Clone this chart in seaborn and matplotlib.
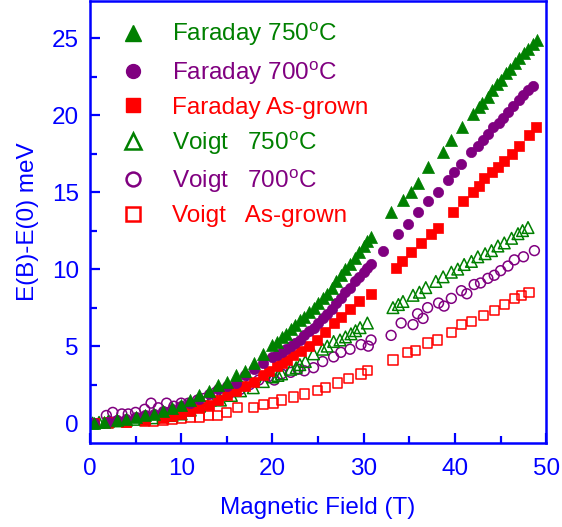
import matplotlib
matplotlib.use("Agg")
import matplotlib.pyplot as plt
from matplotlib.lines import Line2D
from matplotlib.ticker import MultipleLocator
import seaborn as sns

# ---------------- data ----------------
far750_x = [0.5, 1.5, 3, 4, 5, 6, 7, 8, 9, 10, 11, 12, 13, 14, 15, 16, 17, 18, 19, 20,
            20.5, 21, 21.5, 22, 22.5, 23, 23.5, 24, 24.5, 25, 25.5, 26, 26.5, 27, 27.5,
            28, 28.5, 29, 29.5, 30, 30.4, 30.8,
            33, 34.3, 35.2, 35.9, 37, 38.7, 39.6, 40.8, 42, 42.6, 43, 43.6, 44, 44.6,
            45, 45.6, 46, 46.6, 47, 47.6, 48, 48.5, 49]
far750_y = [0.0, 0.1, 0.2, 0.3, 0.4, 0.5, 0.6, 0.8, 1.0, 1.2, 1.5, 1.8, 2.1, 2.5, 2.7, 3.1, 3.4, 3.9, 4.5, 5.1,
            5.3, 5.6, 5.8, 6.1, 6.4, 6.7, 6.9, 7.2, 7.5, 7.8, 8.1, 8.4, 8.8, 9.2, 9.6,
            10.0, 10.3, 10.7, 11.1, 11.5, 11.8, 12.1,
            13.7, 14.5, 15.0, 15.6, 16.6, 17.6, 18.4, 19.2, 20.1, 20.5, 20.8, 21.2, 21.6, 22.0,
            22.3, 22.7, 23.0, 23.4, 23.7, 24.0, 24.3, 24.6, 24.9]

far700_x = [0.5, 2, 3, 4, 5, 6, 7, 8, 9, 10, 11, 12, 13, 14, 15, 16, 17, 18, 19, 20,
            20.5, 21, 21.5, 22, 22.5, 23, 23.5, 24, 24.5, 25, 25.5, 26, 26.5, 27, 27.5,
            28, 28.5, 29, 29.5, 30, 30.4, 30.8,
            32.1, 33.8, 34.8, 35.9, 37, 38.1, 39.2, 39.9, 40.7, 41.8, 42.5, 43.1, 43.6,
            44.2, 44.8, 45.3, 45.8, 46.4, 47, 47.5, 48, 48.6]
far700_y = [0.0, 0.1, 0.2, 0.3, 0.4, 0.5, 0.6, 0.8, 0.9, 1.1, 1.3, 1.6, 1.9, 2.2, 2.4, 2.6, 3.1, 3.5, 3.9, 4.3,
            4.4, 4.6, 4.8, 5.0, 5.2, 5.4, 5.7, 6.0, 6.2, 6.5, 6.8, 7.1, 7.4, 7.8, 8.1,
            8.5, 8.8, 9.2, 9.5, 9.8, 10.1, 10.3,
            11.2, 12.3, 12.9, 13.7, 14.4, 15.0, 15.8, 16.3, 16.8, 17.6, 18.0, 18.4, 18.8,
            19.2, 19.5, 19.8, 20.2, 20.6, 21.0, 21.3, 21.6, 21.9]

fargr_x = [0.5, 2, 4, 6, 8, 9, 10, 11, 12, 13, 14, 15, 16, 17, 18, 19, 19.6, 20.5, 21.0, 21.6,
           22.3, 23.1, 24, 24.9, 25.8, 26.7, 27.5, 28.5, 29.5, 30.8,
           33.5, 34.2, 35.2, 36.3, 37.4, 38.1, 39.8, 40.9, 42, 42.6, 43.2, 44.0, 44.7,
           45.4, 46.2, 47, 48.1, 48.9]
fargr_y = [0.0, 0.05, 0.1, 0.2, 0.35, 0.45, 0.6, 0.8, 1.0, 1.2, 1.5, 1.8, 2.1, 2.4, 2.7, 3.1, 3.4, 3.7, 3.9, 4.1,
           4.4, 4.7, 5.0, 5.4, 5.9, 6.5, 6.9, 7.4, 7.9, 8.4,
           10.1, 10.5, 11.1, 11.7, 12.3, 12.7, 13.7, 14.4, 15.0, 15.4, 15.9, 16.3, 16.6,
           17.0, 17.5, 18.0, 18.7, 19.2]

voi750_x = [0.3, 1, 2, 3, 4, 5, 6, 7, 8, 9, 10, 11, 12, 13.2, 14.3, 15.5, 16.5, 17.9, 19, 20,
            20.6, 21, 22, 22.6, 23, 23.6, 24.5, 25.5, 26, 26.7, 27.4, 28, 28.6, 29.1, 29.6, 30.4,
            33.2, 33.8, 34.3, 35.4, 36.1, 36.8, 37.9, 38.7, 39.6, 40.3, 41, 41.8, 42.5,
            43.3, 44, 44.7, 45.4, 46.2, 46.9, 47.4, 48]
voi750_y = [0.0, 0.05, 0.1, 0.15, 0.2, 0.25, 0.3, 0.35, 0.45, 0.5, 0.6, 0.85, 1.1, 1.5, 1.5, 1.8, 2.1, 2.3, 2.7, 3.0,
            3.1, 3.2, 3.5, 3.6, 3.8, 4.0, 4.5, 4.8, 5.0, 5.3, 5.4, 5.6, 5.8, 6.0, 6.2, 6.5,
            7.5, 7.7, 7.9, 8.3, 8.5, 8.8, 9.2, 9.5, 9.8, 10.0, 10.3, 10.5, 10.8,
            11.0, 11.2, 11.5, 11.7, 12.0, 12.3, 12.5, 12.7]

voi700_x = [1.8, 2.5, 3.5, 4.2, 5, 6, 6.7, 7.5, 8.4, 9.2, 10, 10.8, 11.8, 12.5, 13.8, 14.5, 15.5,
            16.5, 17.5, 18.5, 19.5, 20.2, 21, 22, 22.8, 23.5, 24.5, 25.5, 26.7, 27.5, 28.5,
            29.7, 30.5, 30.8,
            33, 34.1, 35.4, 35.9, 36.5, 37, 38.2, 38.8, 39.6, 40.7, 41.3, 42.1, 42.8, 43.6,
            44.3, 45, 45.8, 46.5, 47.5, 48.7]
voi700_y = [0.5, 0.7, 0.6, 0.6, 0.7, 0.9, 1.3, 1.0, 1.3, 1.1, 1.3, 1.3, 1.5, 1.6, 2.0, 1.8, 2.0,
            2.2, 2.5, 2.8, 3.0, 2.8, 3.2, 3.3, 3.5, 3.4, 3.6, 4.0, 4.3, 4.6, 4.8,
            5.1, 5.0, 5.4,
            5.7, 6.5, 6.4, 7.1, 6.8, 7.5, 7.8, 7.6, 8.1, 8.6, 8.4, 9.0, 9.1, 9.4,
            9.6, 9.9, 10.2, 10.6, 10.8, 11.2]

voigr_x = [0.5, 2, 4, 6, 7, 8, 9, 10, 11, 12, 13, 14, 15, 16.2, 17.9, 19, 20.1, 21, 22.3, 23.5,
           24.9, 25.8, 27.1, 28.3, 29.7, 30.4,
           33.2, 34.8, 35.7, 37, 38.1, 39.6, 40.7, 41.8, 43.1, 44.3, 45.4, 46.5, 47.3, 48.1]
voigr_y = [0.0, 0.0, 0.05, 0.1, 0.15, 0.2, 0.25, 0.3, 0.4, 0.4, 0.5, 0.5, 0.7, 1.0, 1.0, 1.2, 1.3, 1.5, 1.7, 1.9,
           2.1, 2.3, 2.6, 2.9, 3.2, 3.4,
           4.1, 4.6, 4.7, 5.2, 5.4, 5.9, 6.4, 6.6, 7.0, 7.3, 7.7, 8.1, 8.3, 8.5]

labels = [r"Faraday 750$^{\rm o}$C", r"Faraday 700$^{\rm o}$C", "Faraday As-grown",
          r"Voigt   750$^{\rm o}$C", r"Voigt   700$^{\rm o}$C", "Voigt   As-grown"]
colors = ["#008000", "#800080", "#ff0000", "#008000", "#800080", "#ff0000"]
markers = ["^", "o", "s", "^", "o", "s"]
filled = [True, True, True, False, False, False]
xs = [far750_x, far700_x, fargr_x, voi750_x, voi700_x, voigr_x]
ys = [far750_y, far700_y, fargr_y, voi750_y, voi700_y, voigr_y]
sizes = [75, 55, 50, 70, 50, 45]

# ---------------- plotting ----------------
sns.set_style("white")
plt.rcParams["font.family"] = ["Liberation Sans", "DejaVu Sans"]
plt.rcParams["mathtext.fontset"] = "custom"
plt.rcParams["mathtext.rm"] = "Liberation Sans"

blue = "#0000ff"
FS = 17.5
fig = plt.figure(figsize=(5.62, 5.27), dpi=100)
ax = fig.add_axes([0.160, 0.159, 0.812, 0.839])

# draw Voigt first then Faraday so filled markers are on top
order = [5, 4, 3, 2, 1, 0]
for i in order:
    if filled[i]:
        sns.scatterplot(x=xs[i], y=ys[i], ax=ax, marker=markers[i], color=colors[i],
                        edgecolor=colors[i], linewidth=0.5, s=sizes[i], legend=False)
    else:
        sns.scatterplot(x=xs[i], y=ys[i], ax=ax, marker=markers[i], facecolor="none",
                        edgecolor=colors[i], linewidth=1.1, s=sizes[i], legend=False)

ax.set_xlim(0, 50)
ax.set_ylim(-1.3, 27.4)
ax.xaxis.set_major_locator(MultipleLocator(10))
ax.xaxis.set_minor_locator(MultipleLocator(5))
ax.yaxis.set_major_locator(MultipleLocator(5))
ax.yaxis.set_minor_locator(MultipleLocator(2.5))
ax.tick_params(which="both", direction="in", color=blue, width=1.6,
               labelcolor=blue, labelsize=FS, top=False, right=False,
               left=True, bottom=True)
ax.tick_params(axis="x", which="major", length=7, pad=11)
ax.tick_params(axis="y", which="major", length=7, pad=8)
ax.tick_params(which="minor", length=5)
for sp in ax.spines.values():
    sp.set_color(blue)
    sp.set_linewidth(1.8)

ax.set_xlabel("Magnetic Field (T)", color=blue, fontsize=FS, labelpad=12)
ax.set_ylabel("E(B)-E(0) meV", color=blue, fontsize=FS, labelpad=9)

handles = []
for i in range(6):
    handles.append(Line2D([], [], ls="none", marker=markers[i], color=colors[i],
                          markerfacecolor=colors[i] if filled[i] else "none",
                          markeredgecolor=colors[i], markeredgewidth=1.8 if not filled[i] else 1,
                          markersize=11 if markers[i] == "^" else 10))
leg = ax.legend(handles, labels, loc="upper left", bbox_to_anchor=(0.042, 0.978),
                frameon=False, fontsize=FS, labelspacing=0.42, handletextpad=1.0,
                handlelength=1.2, borderaxespad=0)
for t, c in zip(leg.get_texts(), colors):
    t.set_color(c)

fig.savefig("out.png", dpi=100)
